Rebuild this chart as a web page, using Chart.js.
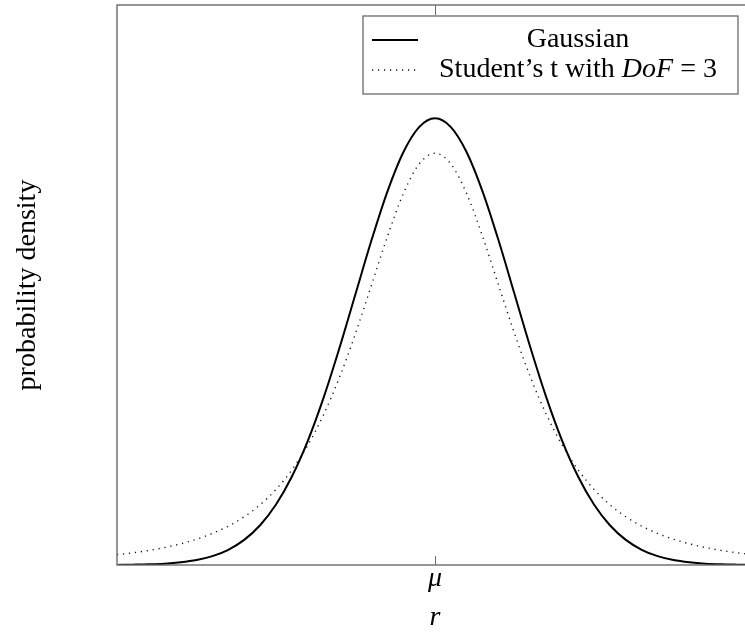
<!DOCTYPE html>
<html>
<head>
<meta charset="utf-8">
<script src="https://cdn.jsdelivr.net/npm/chart.js@4.4.1/dist/chart.umd.min.js"></script>
<style>
  html, body { margin: 0; padding: 0; background: #fff; overflow: hidden; }
  #wrap { width: 760px; height: 632px; }
</style>
</head>
<body>
<div id="wrap"><canvas id="chart" width="760" height="632"></canvas></div>
<script>
// r from -4 to 4, step 0.2
const rValues = [
  -4.0, -3.8, -3.6, -3.4, -3.2, -3.0, -2.8, -2.6, -2.4, -2.2, -2.0, -1.8, -1.6, -1.4, -1.2, -1.0, -0.8, -0.6, -0.4, -0.2,
  0.0, 0.2, 0.4, 0.6, 0.8, 1.0, 1.2, 1.4, 1.6, 1.8, 2.0, 2.2, 2.4, 2.6, 2.8, 3.0, 3.2, 3.4, 3.6, 3.8, 4.0
];
const gaussian = [
  0.0001, 0.0003, 0.0006, 0.0012, 0.0024, 0.0044, 0.0079, 0.0136, 0.0224, 0.0355, 0.0540, 0.0790, 0.1109, 0.1497, 0.1942, 0.2420, 0.2897, 0.3332, 0.3683, 0.3910,
  0.3989, 0.3910, 0.3683, 0.3332, 0.2897, 0.2420, 0.1942, 0.1497, 0.1109, 0.0790, 0.0540, 0.0355, 0.0224, 0.0136, 0.0079, 0.0044, 0.0024, 0.0012, 0.0006, 0.0003, 0.0001
];
const studentT = [
  0.0092, 0.0109, 0.0130, 0.0156, 0.0189, 0.0230, 0.0282, 0.0347, 0.0431, 0.0538, 0.0675, 0.0850, 0.1070, 0.1345, 0.1678, 0.2068, 0.2497, 0.2930, 0.3313, 0.3580,
  0.3676, 0.3580, 0.3313, 0.2930, 0.2497, 0.2068, 0.1678, 0.1345, 0.1070, 0.0850, 0.0675, 0.0538, 0.0431, 0.0347, 0.0282, 0.0230, 0.0189, 0.0156, 0.0130, 0.0109, 0.0092
];
const xTickValues = [0];
const xTickLabels = ["μ"];
const legendRows = [
  [{ text: "Gaussian" }],
  [{ text: "Student’s t with " }, { text: "DoF", italic: true }, { text: " = 3" }]
];

const serif = "'Liberation Serif', 'Times New Roman', serif";
const axisGray = "#6a6a6a";
const fontSize = 28;

const toPoints = (ys) => rValues.map((x, i) => ({ x, y: ys[i] }));

// plot frame + inward tick marks (pgfplots style)
const framePlugin = {
  id: "frame",
  afterDatasetsDraw(chart) {
    const { ctx, chartArea } = chart;
    const xScale = chart.scales.x;
    ctx.save();
    ctx.strokeStyle = axisGray;
    ctx.lineWidth = 1.4;
    ctx.strokeRect(chartArea.left, chartArea.top, chartArea.right - chartArea.left, chartArea.bottom - chartArea.top);
    xTickValues.forEach((v) => {
      const px = Math.round(xScale.getPixelForValue(v)) + 0.5;
      ctx.lineWidth = 1;
      ctx.beginPath();
      ctx.moveTo(px, chartArea.bottom);
      ctx.lineTo(px, chartArea.bottom - 9);
      ctx.moveTo(px, chartArea.top);
      ctx.lineTo(px, chartArea.top + 10);
      ctx.stroke();
    });
    ctx.restore();
  }
};

// boxed legend with centered entries and italic math part
const boxLegendPlugin = {
  id: "boxLegend",
  afterDraw(chart) {
    const { ctx } = chart;
    const box = { left: 363, top: 16, right: 738, bottom: 94 };
    const rowY = [40, 70];
    const sampleL = 372, sampleR = 418;
    ctx.save();
    ctx.fillStyle = "#fff";
    ctx.fillRect(box.left, box.top, box.right - box.left, box.bottom - box.top);
    ctx.strokeStyle = axisGray;
    ctx.lineWidth = 1.3;
    ctx.strokeRect(box.left, box.top, box.right - box.left, box.bottom - box.top);

    chart.data.datasets.forEach((ds, i) => {
      const y = rowY[i];
      ctx.strokeStyle = ds.borderColor;
      ctx.lineWidth = ds.borderWidth;
      ctx.setLineDash(ds.borderDash || []);
      ctx.beginPath();
      ctx.moveTo(sampleL, y);
      ctx.lineTo(sampleR, y);
      ctx.stroke();
      ctx.setLineDash([]);

      const parts = legendRows[i];
      const fontFor = (p) => (p.italic ? "italic " : "") + fontSize + "px " + serif;
      let total = 0;
      parts.forEach((p) => { ctx.font = fontFor(p); total += ctx.measureText(p.text).width; });
      let x = (sampleR + box.right) / 2 - total / 2;
      ctx.fillStyle = "#000";
      ctx.textBaseline = "middle";
      ctx.textAlign = "left";
      parts.forEach((p) => {
        ctx.font = fontFor(p);
        ctx.fillText(p.text, x, y);
        x += ctx.measureText(p.text).width;
      });
    });
    ctx.restore();
  }
};

new Chart(document.getElementById("chart"), {
  type: "line",
  data: {
    datasets: [
      {
        label: "Gaussian",
        data: toPoints(gaussian),
        borderColor: "#000",
        borderWidth: 2,
        pointRadius: 0,
        cubicInterpolationMode: "monotone",
        fill: false
      },
      {
        label: "Student’s t with DoF = 3",
        data: toPoints(studentT),
        borderColor: "#111",
        borderWidth: 1.4,
        borderDash: [1.2, 4.8],
        pointRadius: 0,
        cubicInterpolationMode: "monotone",
        fill: false
      }
    ]
  },
  options: {
    responsive: false,
    animation: false,
    devicePixelRatio: 1,
    layout: { padding: { top: 5, right: 7, left: 0, bottom: 0 } },
    plugins: {
      legend: { display: false },
      tooltip: { enabled: false }
    },
    scales: {
      x: {
        type: "linear",
        min: -4,
        max: 4,
        grid: { display: false, drawTicks: false },
        border: { display: false },
        afterBuildTicks: (scale) => { scale.ticks = xTickValues.map((value) => ({ value })); },
        afterFit: (scale) => { scale.height = 67; },
        ticks: {
          padding: 0,
          color: "#000",
          font: { family: serif, size: fontSize, style: "italic", lineHeight: 1.0 },
          callback: (value) => xTickLabels[xTickValues.indexOf(value)] ?? ""
        },
        title: {
          display: true,
          text: "r",
          color: "#000",
          padding: 0,
          font: { family: serif, size: fontSize, style: "italic", lineHeight: 1.0 }
        }
      },
      y: {
        min: 0,
        max: 0.5,
        grid: { display: false, drawTicks: false },
        border: { display: false },
        ticks: { display: false },
        afterFit: (scale) => { scale.width = 117; },
        title: {
          display: true,
          text: "probability density",
          color: "#000",
          padding: { top: 11, bottom: 0 },
          font: { family: serif, size: fontSize, lineHeight: 1.2 }
        }
      }
    }
  },
  plugins: [framePlugin, boxLegendPlugin]
});
</script>
</body>
</html>
